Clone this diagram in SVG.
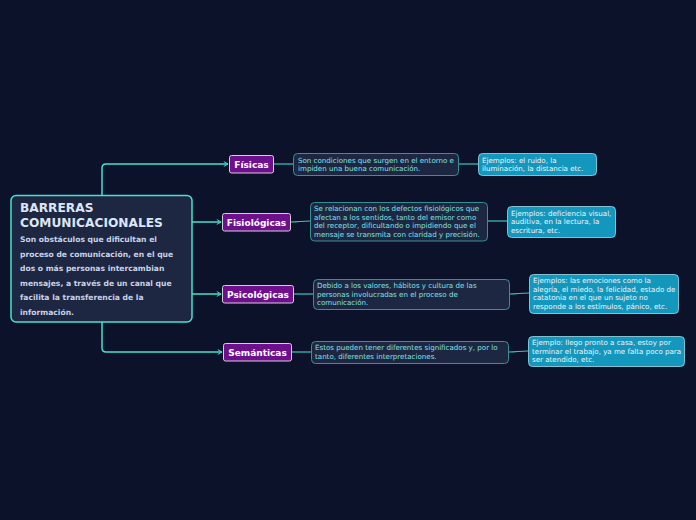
<svg xmlns="http://www.w3.org/2000/svg" width="696" height="520" viewBox="0 0 696 520">
<style>
.bg{fill:#0b1229}
.main{fill:#1e2742;stroke:#44e3cf;stroke-width:1.5}
.cat{fill:#6e0f8c;stroke:#d0d0d8;stroke-width:1}
.desc{fill:#1e2742;stroke:#3a8f93;stroke-width:1}
.ex{fill:#1497bd;stroke:#9fdcea;stroke-width:0.8}
.conn{fill:none;stroke:#44e3cf;stroke-width:1.5}
.conn2{fill:none;stroke:#3fc3bb;stroke-width:1.2}
text{font-family:"DejaVu Sans","Verdana",sans-serif}
.t1{font-size:12.2px;font-weight:bold;fill:#dce6f7}
.t2{font-size:7.6px;font-weight:bold;fill:#c8d2e6}
.tc{font-size:9px;font-weight:bold;fill:#ffffff}
.td{font-size:7.1px;fill:#7fe3e6}
.te{font-size:7.1px;fill:#f0f6fa}
</style>
<defs>
<marker id="arr" viewBox="0 0 10 10" refX="8" refY="5" markerWidth="6" markerHeight="6" orient="auto" markerUnits="userSpaceOnUse">
<path d="M1,1 L8,5 L1,9" fill="none" stroke="#44e3cf" stroke-width="1.6"/>
</marker>
</defs>
<rect class="bg" x="0" y="0" width="696" height="520"/>
<g id="connectors">
<path class="conn" d="M102,195 V168 Q102,164 106,164 H228" marker-end="url(#arr)"/>
<path class="conn" d="M192,222 H221" marker-end="url(#arr)"/>
<path class="conn" d="M192,294 H221" marker-end="url(#arr)"/>
<path class="conn" d="M102,322 V348 Q102,352 106,352 H222" marker-end="url(#arr)"/>
<path class="conn2" d="M273,164 C283,164 283,164 293,164"/>
<path class="conn2" d="M290,222 C300,222 300,221 310,221"/>
<path class="conn2" d="M293,294 C303,294 303,294 313,294"/>
<path class="conn2" d="M291,352 C301,352 301,352 311,352"/>
<path class="conn2" d="M458,164 C468,164 468,164 478,164"/>
<path class="conn2" d="M487,221 C497,221 497,221 507,221"/>
<path class="conn2" d="M509,294 C519,294 519,293 529,293"/>
<path class="conn2" d="M508,352 C518,352 518,351 528,351"/>
</g>
<g id="main">
<rect class="main" x="11" y="195.5" width="181" height="126.5" rx="5"/>
<text class="t1" x="20" y="212">BARRERAS</text>
<text class="t1" x="20" y="227">COMUNICACIONALES</text>
<text class="t2" x="20" y="242">Son obstáculos que dificultan el</text>
<text class="t2" x="20" y="256.5">proceso de comunicación, en el que</text>
<text class="t2" x="20" y="271">dos o más personas intercambian</text>
<text class="t2" x="20" y="285.5">mensajes, a través de un canal que</text>
<text class="t2" x="20" y="300">facilita la transferencia de la</text>
<text class="t2" x="20" y="314.5">información.</text>
</g>
<g id="fisicas">
<rect class="cat" x="229.5" y="155.5" width="44" height="17.5" rx="2"/>
<text class="tc" x="251.5" y="167.5" text-anchor="middle">Físicas</text>
</g>
<g id="fisicas-desc">
<rect class="desc" x="293.5" y="153.5" width="165" height="22" rx="4"/>
<text class="td" x="298" y="162.5">Son condiciones que surgen en el entorno e</text>
<text class="td" x="298" y="171">impiden una buena comunicación.</text>
</g>
<g id="fisicas-ex">
<rect class="ex" x="478.5" y="153.5" width="118" height="22" rx="4"/>
<text class="te" x="482" y="162.5">Ejemplos: el ruido, la</text>
<text class="te" x="482" y="171">iluminación, la distancia etc.</text>
</g>
<g id="fisiologicas">
<rect class="cat" x="222.5" y="213.5" width="68" height="17.5" rx="2"/>
<text class="tc" x="256.5" y="225.5" text-anchor="middle">Fisiológicas</text>
</g>
<g id="fisiologicas-desc">
<rect class="desc" x="310.5" y="202.5" width="177" height="38.5" rx="4"/>
<text class="td" x="314" y="211">Se relacionan con los defectos fisiológicos que</text>
<text class="td" x="314" y="219.5">afectan a los sentidos, tanto del emisor como</text>
<text class="td" x="314" y="228">del receptor, dificultando o impidiendo que el</text>
<text class="td" x="314" y="236.5">mensaje se transmita con claridad y precisión.</text>
</g>
<g id="fisiologicas-ex">
<rect class="ex" x="507.5" y="206.5" width="108" height="31" rx="4"/>
<text class="te" x="511" y="215.5">Ejemplos: deficiencia visual,</text>
<text class="te" x="511" y="224">auditiva, en la lectura, la</text>
<text class="te" x="511" y="232.5">escritura, etc.</text>
</g>
<g id="psicologicas">
<rect class="cat" x="222.5" y="285.5" width="71" height="17.5" rx="2"/>
<text class="tc" x="258" y="297.5" text-anchor="middle">Psicológicas</text>
</g>
<g id="psicologicas-desc">
<rect class="desc" x="313.5" y="279.5" width="196" height="30" rx="4"/>
<text class="td" x="317" y="288">Debido a los valores, hábitos y cultura de las</text>
<text class="td" x="317" y="296.5">personas involucradas en el proceso de</text>
<text class="td" x="317" y="305">comunicación.</text>
</g>
<g id="psicologicas-ex">
<rect class="ex" x="529.5" y="274.5" width="149" height="39" rx="4"/>
<text class="te" x="533" y="283">Ejemplos: las emociones como la</text>
<text class="te" x="533" y="291.5">alegría, el miedo, la felicidad, estado de</text>
<text class="te" x="533" y="300">catatonia en el que un sujeto no</text>
<text class="te" x="533" y="308.5">responde a los estímulos, pánico, etc.</text>
</g>
<g id="semanticas">
<rect class="cat" x="223.5" y="343.5" width="68" height="17.5" rx="2"/>
<text class="tc" x="257.5" y="355.5" text-anchor="middle">Semánticas</text>
</g>
<g id="semanticas-desc">
<rect class="desc" x="311.5" y="341.5" width="197" height="22" rx="4"/>
<text class="td" x="315" y="350">Estos pueden tener diferentes significados y, por lo</text>
<text class="td" x="315" y="358.5">tanto, diferentes interpretaciones.</text>
</g>
<g id="semanticas-ex">
<rect class="ex" x="528.5" y="336.5" width="156" height="30" rx="4"/>
<text class="te" x="532" y="345">Ejemplo: llego pronto a casa, estoy por</text>
<text class="te" x="532" y="353.5">terminar el trabajo, ya me falta poco para</text>
<text class="te" x="532" y="362">ser atendido, etc.</text>
</g>
</svg>
